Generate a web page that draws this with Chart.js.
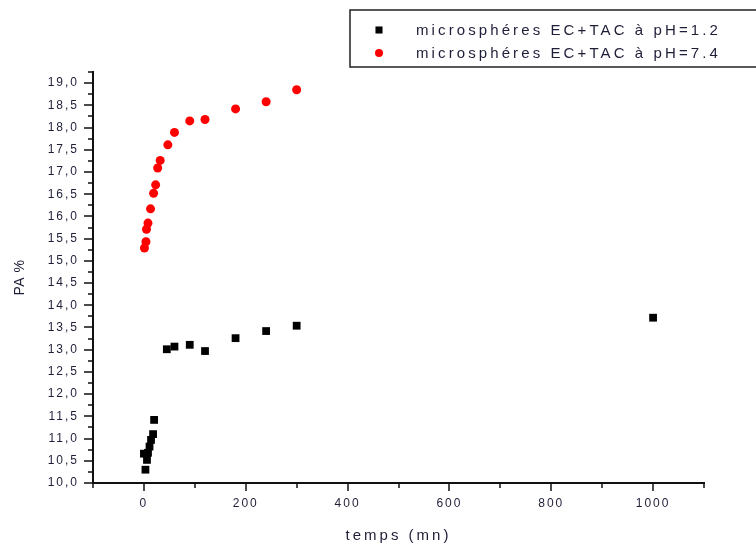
<!DOCTYPE html>
<html>
<head>
<meta charset="utf-8">
<script src="https://cdn.jsdelivr.net/npm/chart.js@4/dist/chart.umd.min.js"></script>
<style>
  html, body { margin: 0; padding: 0; background: #ffffff; }
  canvas { display: block; }
</style>
</head>
<body>
<canvas id="chart" width="756" height="545"></canvas>
<script>
// Series names
const seriesNames = ['microsphéres EC+TAC à pH=1.2', 'microsphéres EC+TAC à pH=7.4'];

// Release at pH 1.2: time (mn) and PA (%)
const timeAcid = [0, 3, 6, 8, 11, 14, 18, 20, 45, 60, 90, 120, 180, 240, 300, 1000];
const paAcid   = [10.66, 10.30, 10.52, 10.68, 10.82, 10.97, 11.10, 11.42, 13.01, 13.07, 13.11, 12.97, 13.26, 13.42, 13.54, 13.72];

// Release at pH 7.4: time (mn) and PA (%)
const timeNeutral = [1, 4, 5, 8, 13, 19, 23, 27, 32, 47, 60, 90, 120, 180, 240, 300];
const paNeutral   = [15.29, 15.43, 15.71, 15.85, 16.17, 16.52, 16.71, 17.09, 17.26, 17.61, 17.89, 18.15, 18.18, 18.42, 18.58, 18.85];

// Axis ranges and tick steps
const xRange = [-100, 1100];
const xStep = 100, xLabelStep = 200;
const yRange = [10, 19.25];
const yStep = 0.25, yLabelStep = 0.5;

const toPoints = (xs, ys) => xs.map((x, i) => ({ x, y: ys[i] }));

const isMultiple = (v, step) => Math.abs(v / step - Math.round(v / step)) < 1e-6;

const FONT = '"Liberation Sans", Arial, sans-serif';
const TEXT_COLOR = '#1e1e38';

// Letter spacing used for tick labels and for each axis title
const titleSpacing = { x: '3px', y: '0.5px' };
const tickSpacing = '2px';

const spacingPlugin = {
  id: 'spacing',
  beforeLayout(chart) { chart.ctx.letterSpacing = tickSpacing; },
  beforeDraw(chart) {
    chart.ctx.letterSpacing = tickSpacing;
    Object.values(chart.scales).forEach(s => {
      if (s._titlePatched) return;
      const draw = s.drawTitle.bind(s);
      s.drawTitle = function () {
        const ctx = this.ctx;
        const prev = ctx.letterSpacing;
        ctx.letterSpacing = titleSpacing[this.id] || '0px';
        draw();
        ctx.letterSpacing = prev;
      };
      s._titlePatched = true;
    });
  }
};

// Outward major / minor tick marks on both axes
const tickMarks = {
  id: 'tickMarks',
  afterDraw(chart) {
    const { ctx, chartArea, scales: { x, y } } = chart;
    ctx.save();
    ctx.strokeStyle = '#111';
    ctx.lineWidth = 1.5;
    ctx.beginPath();
    x.ticks.forEach(t => {
      const px = Math.round(x.getPixelForValue(t.value));
      const len = isMultiple(t.value, xLabelStep) ? 8 : 5;
      ctx.moveTo(px, chartArea.bottom);
      ctx.lineTo(px, chartArea.bottom + len);
    });
    y.ticks.forEach(t => {
      const py = Math.round(y.getPixelForValue(t.value));
      const len = isMultiple(t.value, yLabelStep) ? 9 : 5;
      ctx.moveTo(chartArea.left, py);
      ctx.lineTo(chartArea.left - len, py);
    });
    ctx.stroke();
    ctx.restore();
  }
};

// Boxed legend in the upper right
const boxLegend = {
  id: 'boxLegend',
  afterDraw(chart) {
    const ctx = chart.ctx;
    ctx.save();
    ctx.strokeStyle = '#222';
    ctx.lineWidth = 1.5;
    ctx.strokeRect(350, 10, 420, 57);
    ctx.font = '15px ' + FONT;
    ctx.letterSpacing = '3.1px';
    ctx.textBaseline = 'middle';
    ctx.textAlign = 'left';
    const rows = [30, 53];
    chart.data.datasets.forEach((ds, i) => {
      ctx.fillStyle = ds.backgroundColor;
      ctx.strokeStyle = ds.backgroundColor;
      Chart.helpers.drawPoint(ctx, {
        pointStyle: ds.pointStyle,
        radius: ds.pointStyle === 'rect' ? 5 : 4,
        rotation: 0,
        borderWidth: 0
      }, 379, rows[i]);
      ctx.fillStyle = TEXT_COLOR;
      ctx.fillText(ds.label, 416, rows[i] + 1);
    });
    ctx.restore();
  }
};

new Chart(document.getElementById('chart'), {
  type: 'scatter',
  data: {
    datasets: [
      {
        label: seriesNames[0],
        data: toPoints(timeAcid, paAcid),
        pointStyle: 'rect',
        pointRadius: 5.5,
        backgroundColor: '#000000',
        borderColor: '#000000',
        borderWidth: 0
      },
      {
        label: seriesNames[1],
        data: toPoints(timeNeutral, paNeutral),
        pointStyle: 'circle',
        pointRadius: 4.5,
        backgroundColor: '#ff0000',
        borderColor: '#ff0000',
        borderWidth: 0
      }
    ]
  },
  options: {
    responsive: false,
    animation: false,
    events: [],
    layout: { padding: { top: 72, right: 52, bottom: 0, left: 0 } },
    plugins: {
      legend: { display: false },
      tooltip: { enabled: false }
    },
    scales: {
      x: {
        type: 'linear',
        min: xRange[0],
        max: xRange[1],
        afterFit(s) { s.height = 62; },
        border: { display: true, color: '#111', width: 2 },
        grid: { drawOnChartArea: false, drawTicks: true, tickLength: 8, tickColor: 'rgba(0,0,0,0)' },
        ticks: {
          stepSize: xStep,
          autoSkip: false,
          maxRotation: 0,
          padding: 5,
          color: TEXT_COLOR,
          font: { family: FONT, size: 12 },
          callback: v => isMultiple(v, xLabelStep) ? String(v) : ''
        },
        title: {
          display: true,
          text: 'temps (mn)',
          color: TEXT_COLOR,
          font: { family: FONT, size: 15 },
          padding: { top: 0, bottom: 0 }
        }
      },
      y: {
        type: 'linear',
        min: yRange[0],
        max: yRange[1],
        afterFit(s) { s.width = 93; },
        border: { display: true, color: '#111', width: 2 },
        grid: { drawOnChartArea: false, drawTicks: true, tickLength: 9, tickColor: 'rgba(0,0,0,0)' },
        ticks: {
          stepSize: yStep,
          autoSkip: false,
          padding: 5,
          color: TEXT_COLOR,
          font: { family: FONT, size: 12 },
          callback: v => isMultiple(v, yLabelStep) ? v.toFixed(1).replace('.', ',') : ''
        },
        title: {
          display: true,
          text: 'PA %',
          color: TEXT_COLOR,
          font: { family: FONT, size: 14 },
          padding: { top: 12, bottom: 0 }
        }
      }
    }
  },
  plugins: [spacingPlugin, tickMarks, boxLegend]
});
</script>
</body>
</html>
